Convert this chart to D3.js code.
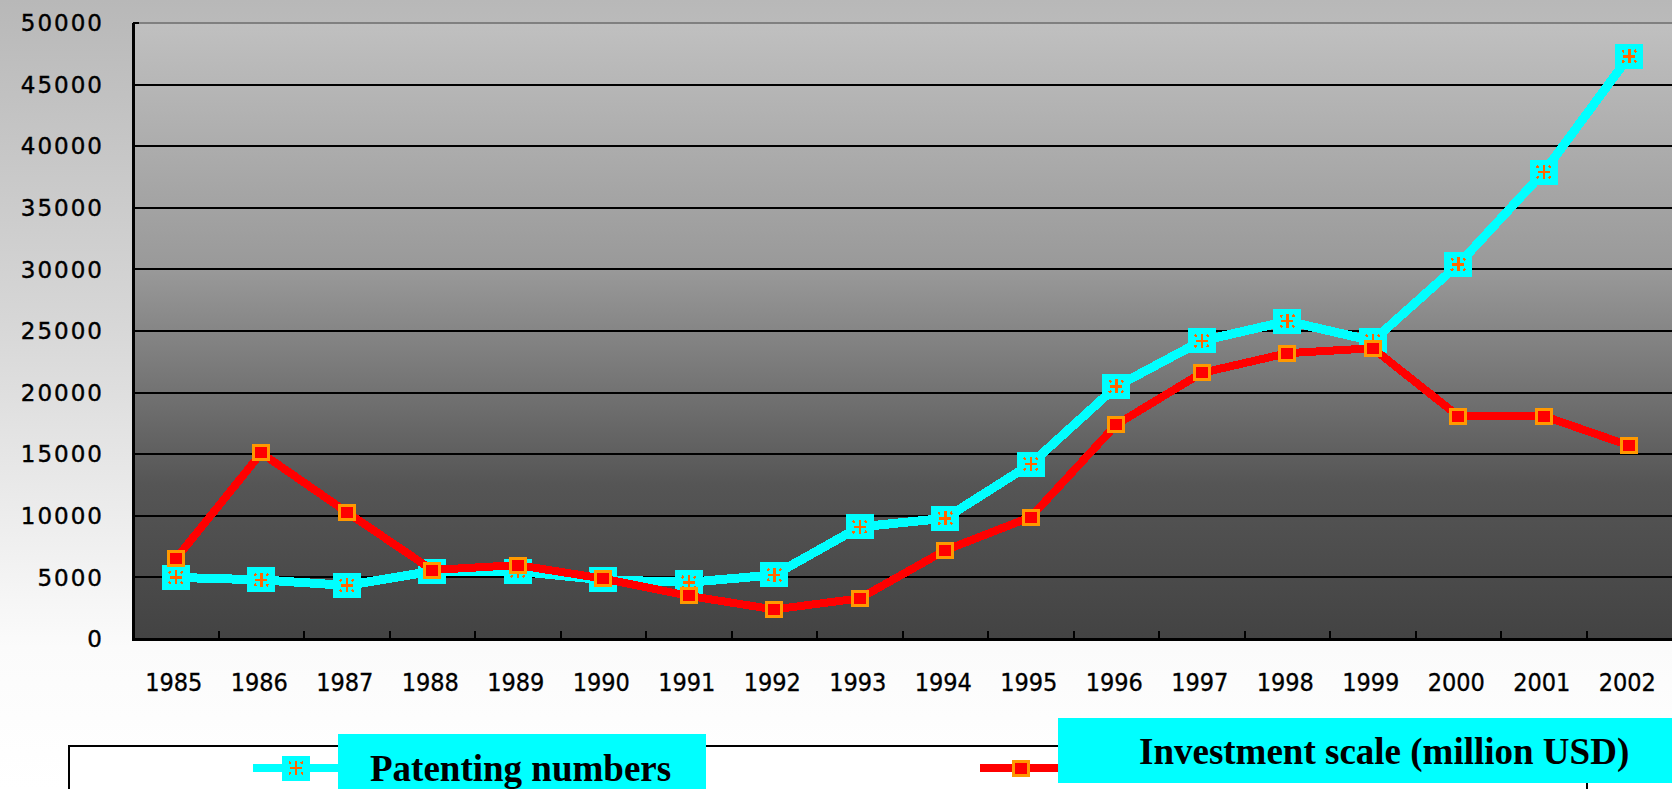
<!DOCTYPE html>
<html>
<head>
<meta charset="utf-8">
<script src="https://cdn.jsdelivr.net/npm/d3@7"></script>
<style>
  html, body { margin: 0; padding: 0; background: #fff; overflow: hidden; }
  .ytick { font-family: "DejaVu Sans", sans-serif; font-size: 23px; letter-spacing: 2px; stroke: #000; stroke-width: 0.4px; }
  .xtick { font-family: "DejaVu Sans Condensed", "Liberation Sans Narrow", sans-serif; font-size: 25px; font-stretch: condensed; stroke: #000; stroke-width: 0.3px; }
  .legend-text { font-family: "Liberation Serif", "Times New Roman", serif; font-weight: bold; font-size: 37px; }
</style>
</head>
<body>
<svg id="chart"></svg>
<script>
const years = [1985, 1986, 1987, 1988, 1989, 1990, 1991, 1992, 1993,
               1994, 1995, 1996, 1997, 1998, 1999, 2000, 2001, 2002]
const patenting = [5000, 4800, 4350, 5500, 5500, 4800, 4600, 5200, 9100,
                   9800, 14200, 20500, 24200, 25800, 24200, 30400, 37900, 47300]
const investment = [6500, 15100, 10300, 5600, 6000, 4900, 3500, 2400, 3300,
                    7200, 9900, 17400, 21600, 23200, 23600, 18100, 18100, 15700]
const yTicks = [0, 5000, 10000, 15000, 20000, 25000, 30000, 35000, 40000, 45000, 50000]
const seriesNames = ["Patenting numbers", "Investment scale (million USD)"]

const width = 1672
const height = 789
const plot = { left: 133, top: 23, right: 1672, bottom: 639 }

const svg = d3.select("#chart")
  .attr("width", width)
  .attr("height", height)

const defs = svg.append("defs")

const bgGrad = defs.append("linearGradient")
  .attr("id", "bg-grad")
  .attr("x1", 0).attr("y1", 0).attr("x2", 0).attr("y2", 1)
bgGrad.append("stop").attr("offset", "0%").attr("stop-color", "#b8b8b8")
bgGrad.append("stop").attr("offset", "40%").attr("stop-color", "#d6d6d6")
bgGrad.append("stop").attr("offset", "82%").attr("stop-color", "#fbfbfb")
bgGrad.append("stop").attr("offset", "100%").attr("stop-color", "#ffffff")

const plotGrad = defs.append("linearGradient")
  .attr("id", "plot-grad")
  .attr("x1", 0).attr("y1", 0).attr("x2", 0).attr("y2", 1)
plotGrad.append("stop").attr("offset", "0%").attr("stop-color", "#c0c0c0")
plotGrad.append("stop").attr("offset", "40%").attr("stop-color", "#999999")
plotGrad.append("stop").attr("offset", "75%").attr("stop-color", "#555555")
plotGrad.append("stop").attr("offset", "100%").attr("stop-color", "#434343")

svg.append("rect")
  .attr("width", width)
  .attr("height", height)
  .attr("fill", "url(#bg-grad)")

const x = d3.scaleBand()
  .domain(years)
  .range([plot.left, plot.right])

const y = d3.scaleLinear()
  .domain([0, 50000])
  .range([plot.bottom, plot.top])

svg.append("rect")
  .attr("x", plot.left)
  .attr("y", plot.top)
  .attr("width", plot.right - plot.left)
  .attr("height", plot.bottom - plot.top)
  .attr("fill", "url(#plot-grad)")

// grid lines
svg.append("g")
  .selectAll("line")
  .data(yTicks.slice(1))
  .join("line")
  .attr("x1", plot.left)
  .attr("x2", plot.right)
  .attr("y1", d => Math.round(y(d)))
  .attr("y2", d => Math.round(y(d)))
  .attr("stroke", d => d === 50000 ? "#808080" : "#000")
  .attr("stroke-width", 2)
  .attr("shape-rendering", "crispEdges")

// y labels
svg.append("g")
  .selectAll("text")
  .data(yTicks)
  .join("text")
  .attr("class", "ytick")
  .attr("x", 104)
  .attr("y", d => y(d))
  .attr("dy", "0.36em")
  .attr("text-anchor", "end")
  .text(d => d)

// axes lines
svg.append("line")
  .attr("x1", plot.left).attr("x2", plot.left)
  .attr("y1", plot.top).attr("y2", plot.bottom + 1)
  .attr("stroke", "#000").attr("stroke-width", 3)
  .attr("shape-rendering", "crispEdges")

svg.append("line")
  .attr("x1", plot.left - 1).attr("x2", plot.right)
  .attr("y1", plot.bottom).attr("y2", plot.bottom)
  .attr("stroke", "#000").attr("stroke-width", 3)
  .attr("shape-rendering", "crispEdges")

svg.append("line")
  .attr("x1", plot.left).attr("x2", plot.left + 6)
  .attr("y1", plot.top).attr("y2", plot.top)
  .attr("stroke", "#000").attr("stroke-width", 2)
  .attr("shape-rendering", "crispEdges")

// x ticks between categories
svg.append("g")
  .selectAll("line")
  .data(years.slice(1))
  .join("line")
  .attr("x1", d => Math.round(x(d)))
  .attr("x2", d => Math.round(x(d)))
  .attr("y1", plot.bottom)
  .attr("y2", plot.bottom - 8)
  .attr("stroke", "#000")
  .attr("stroke-width", 2)
  .attr("shape-rendering", "crispEdges")

svg.append("g")
  .selectAll("text")
  .data(years)
  .join("text")
  .attr("class", "xtick")
  .attr("x", d => x(d) + x.bandwidth() / 2 - 2)
  .attr("y", 691)
  .attr("text-anchor", "middle")
  .text(d => d)

const cx = i => x(years[i]) + x.bandwidth() / 2

const line = d3.line()
  .x((d, i) => cx(i))
  .y(d => y(d))

const drawCyanMarker = (g, px, py) => {
  g.append("rect")
    .attr("x", px - 14).attr("y", py - 12.5)
    .attr("width", 28).attr("height", 25)
    .attr("fill", "#00ffff")
    .attr("shape-rendering", "crispEdges")
  const star = g.append("g")
    .attr("stroke", "#ff6600")
    .attr("stroke-width", 2.5)
    .attr("shape-rendering", "crispEdges")
  star.append("line").attr("x1", px).attr("x2", px).attr("y1", py - 7).attr("y2", py + 7)
  star.append("line").attr("x1", px - 6).attr("x2", px + 6).attr("y1", py).attr("y2", py)
  star.append("line").attr("x1", px - 7).attr("x2", px + 7).attr("y1", py - 6).attr("y2", py + 6)
    .attr("stroke-dasharray", "2.5 13.4 2.5")
  star.append("line").attr("x1", px + 7).attr("x2", px - 7).attr("y1", py - 6).attr("y2", py + 6)
    .attr("stroke-dasharray", "2.5 13.4 2.5")
}

const drawRedMarker = (g, px, py) => {
  g.append("rect")
    .attr("x", px - 7.5).attr("y", py - 7)
    .attr("width", 15).attr("height", 14)
    .attr("fill", "#ff0000")
    .attr("stroke", "#ff9900")
    .attr("stroke-width", 3)
    .attr("shape-rendering", "crispEdges")
}

// patenting series
const gPat = svg.append("g")
gPat.append("path")
  .attr("d", line(patenting))
  .attr("fill", "none")
  .attr("stroke", "#00ffff")
  .attr("stroke-width", 9)
  .attr("shape-rendering", "crispEdges")
patenting.forEach((v, i) => drawCyanMarker(gPat, cx(i), y(v)))

// investment series
const gInv = svg.append("g")
gInv.append("path")
  .attr("d", line(investment))
  .attr("fill", "none")
  .attr("stroke", "#ff0000")
  .attr("stroke-width", 8)
  .attr("shape-rendering", "crispEdges")
investment.forEach((v, i) => drawRedMarker(gInv, cx(i), y(v)))

// legend
const legend = svg.append("g")
legend.append("rect")
  .attr("x", 69).attr("y", 746)
  .attr("width", 1518).attr("height", 80)
  .attr("fill", "#fff")
  .attr("stroke", "#000")
  .attr("stroke-width", 2)
  .attr("shape-rendering", "crispEdges")

legend.append("line")
  .attr("x1", 253).attr("x2", 338).attr("y1", 768).attr("y2", 768)
  .attr("stroke", "#00ffff").attr("stroke-width", 8)
drawCyanMarker(legend, 296, 768)
legend.append("rect")
  .attr("x", 338).attr("y", 734)
  .attr("width", 368).attr("height", 60)
  .attr("fill", "#00ffff")
legend.append("text")
  .attr("class", "legend-text")
  .attr("x", 370).attr("y", 781)
  .text(seriesNames[0])

legend.append("line")
  .attr("x1", 980).attr("x2", 1058).attr("y1", 768).attr("y2", 768)
  .attr("stroke", "#ff0000").attr("stroke-width", 8)
drawRedMarker(legend, 1021, 768)
legend.append("rect")
  .attr("x", 1058).attr("y", 718)
  .attr("width", 614).attr("height", 65)
  .attr("fill", "#00ffff")
legend.append("text")
  .attr("class", "legend-text")
  .attr("x", 1139).attr("y", 764)
  .text(seriesNames[1])
</script>
</body>
</html>
